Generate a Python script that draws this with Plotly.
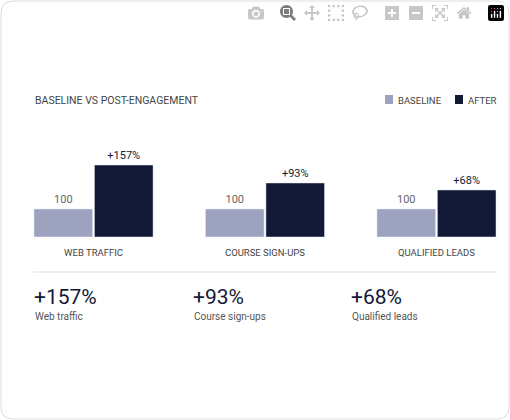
import plotly.graph_objects as go

categories = ["WEB TRAFFIC", "COURSE SIGN-UPS", "QUALIFIED LEADS"]
baseline = [100, 100, 100]
after = [257, 193, 168]
lift_labels = ["+157%", "+93%", "+68%"]
stat_names = ["Web traffic", "Course sign-ups", "Qualified leads"]

W, H = 510, 420
BASE_C = "#9da3bf"
AFTER_C = "#111936"
FONT = "Roboto"


def px(x):
    return x / W


def py(y):
    return 1 - y / H


fig = go.Figure()
fig.add_bar(x=categories, y=baseline, name="Baseline", marker_color=BASE_C,
            text=[str(v) for v in baseline], textposition="outside",
            textfont=dict(color="#666666", size=11, family=FONT), cliponaxis=False)
fig.add_bar(x=categories, y=after, name="After", marker_color=AFTER_C,
            text=lift_labels, textposition="outside",
            textfont=dict(color="#111936", size=11, family=FONT), cliponaxis=False)

# card border
fig.add_shape(type="path", xref="paper", yref="paper", layer="below",
              path="M {a},{t} L {b},{t} Q {r},{t} {r},{u} L {r},{v} Q {r},{bt} {b},{bt} "
                   "L {a},{bt} Q {l},{bt} {l},{v} L {l},{u} Q {l},{t} {a},{t} Z".format(
                  l=px(1), r=px(509), t=py(1), bt=py(419), a=px(13), b=px(497),
                  u=py(13), v=py(407)),
              line=dict(color="#dddddd", width=1), fillcolor="white")

# divider
fig.add_shape(type="line", xref="paper", yref="paper", x0=px(33), x1=px(497),
              y0=py(272), y1=py(272), line=dict(color="#eeeeee", width=2))

ann = [dict(x=px(33), y=py(100), text="BASELINE VS POST-ENGAGEMENT",
            font=dict(size=10.5, color="#444444", family=FONT))]

# legend
for x0, color, label in [(385, BASE_C, "BASELINE"), (455, AFTER_C, "AFTER")]:
    fig.add_shape(type="rect", xref="paper", yref="paper", x0=px(x0), x1=px(x0 + 8),
                  y0=py(95), y1=py(104), fillcolor=color, line=dict(width=0))
    ann.append(dict(x=px(x0 + 11), y=py(100), text=label,
                    font=dict(size=9.5, color="#444444", family=FONT)))

for i, xs in enumerate([33, 192, 350]):
    ann.append(dict(x=px(xs - 1), y=py(297), text=lift_labels[i],
                    font=dict(size=21, color="#111936", family=FONT)))
    ann.append(dict(x=px(xs), y=py(316), text=stat_names[i],
                    font=dict(size=10, color="#555555", family=FONT)))

for a in ann:
    a.update(xref="paper", yref="paper", xanchor="left", yanchor="middle", showarrow=False)

fig.update_layout(
    width=W, height=H, margin=dict(l=0, r=0, t=0, b=0),
    paper_bgcolor="white", plot_bgcolor="white",
    barmode="group", bargap=0.295, bargroupgap=0.03,
    showlegend=False, annotations=ann,
    xaxis=dict(domain=[px(33), px(497)], range=[-0.353, 2.353], showgrid=False,
               showline=False, ticks="", ticklabelstandoff=8,
               tickfont=dict(size=9.5, color="#444444", family=FONT)),
    yaxis=dict(domain=[py(237), py(153)], range=[0, 300], visible=False, fixedrange=True),
)

fig.write_html("out.html", post_script="document.body.style.margin='0';document.body.style.overflow='hidden';")
